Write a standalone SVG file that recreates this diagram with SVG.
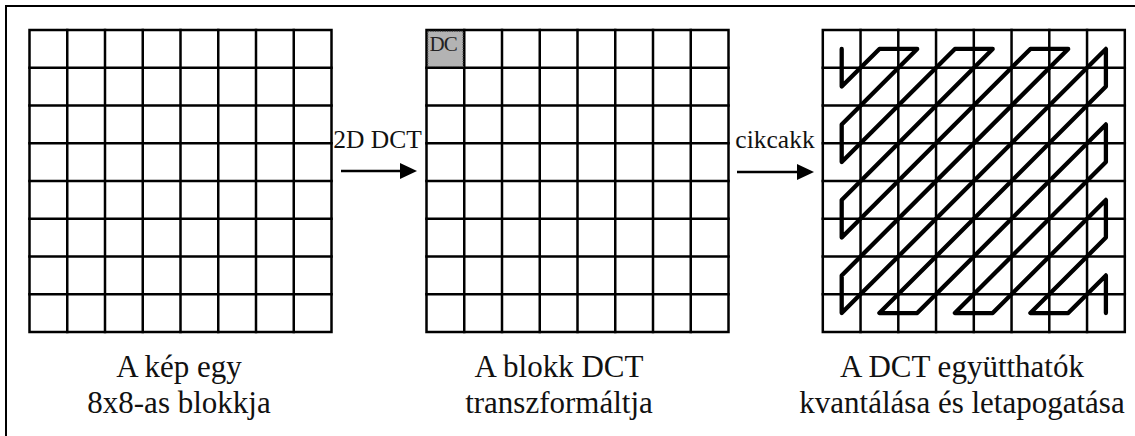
<svg xmlns="http://www.w3.org/2000/svg" xmlns:xlink="http://www.w3.org/1999/xlink" width="1135" height="436" viewBox="0 0 1135 436">
<style>
.frame{stroke:#000;stroke-width:2;fill:none}
.gl{stroke:#000;stroke-width:2.5;fill:none;stroke-linecap:square}
.lbl{font-family:"Liberation Serif","Times New Roman",serif;font-size:31px;fill:#111;text-anchor:middle}
.alb{font-family:"Liberation Serif","Times New Roman",serif;font-size:25.5px;fill:#111;text-anchor:middle}
.conn{stroke:#000;stroke-width:2.7;fill:none}
.zz{stroke:#000;stroke-width:4.3;fill:none;stroke-linejoin:round;stroke-linecap:round}
</style>
<defs>
<marker id="ah" markerWidth="17" markerHeight="16" refX="0" refY="8" orient="auto" markerUnits="userSpaceOnUse">
<path d="M0,0 L17,8 L0,16 Z" fill="#000"/>
</marker>
<g id="grid">
<rect class="gl" x="0" y="0" width="302" height="302"/>
<path class="gl" d="M37.75,0V302M75.5,0V302M113.25,0V302M151,0V302M188.75,0V302M226.5,0V302M264.25,0V302M0,37.75H302M0,75.5H302M0,113.25H302M0,151H302M0,188.75H302M0,226.5H302M0,264.25H302"/>
</g>
</defs>
<rect width="1135" height="436" fill="#fff"/>
<path class="frame" d="M6,436V6H1135"/>
<g id="node-block">
<use xlink:href="#grid" href="#grid" x="29.5" y="30"/>
<text class="lbl" x="179" y="377">A kép egy</text>
<text class="lbl" x="179" y="413">8x8-as blokkja</text>
</g>
<g id="node-dct">
<rect x="426.5" y="30" width="37.75" height="37.75" fill="#b3b3b3"/>
<use xlink:href="#grid" href="#grid" x="426.5" y="30"/>
<rect x="427.8" y="31.3" width="35.2" height="35.2" fill="none" stroke="#555" stroke-width="1.2" stroke-dasharray="1.2,1.2"/>
<text x="429.5" y="50.5" font-family="'Liberation Serif','Times New Roman',serif" font-size="21" fill="#222" letter-spacing="-0.8">DC</text>
<text class="lbl" x="559" y="377">A blokk DCT</text>
<text class="lbl" x="559" y="413">transzformáltja</text>
</g>
<g id="node-zigzag">
<use xlink:href="#grid" href="#grid" x="822.8" y="30"/>
<path class="zz" d="M841.7,48.9 L841.7,86.6 L879.4,48.9 L917.2,48.9 L841.7,124.4 L841.7,162.1 L954.9,48.9 L992.7,48.9 L841.7,199.9 L841.7,237.6 L1030.4,48.9 L1068.2,48.9 L841.7,275.4 L841.7,313.1 L1105.9,48.9 L1105.9,86.6 L879.4,313.1 L917.2,313.1 L1105.9,124.4 L1105.9,162.1 L954.9,313.1 L992.7,313.1 L1105.9,199.9 L1105.9,237.6 L1030.4,313.1 L1068.2,313.1 L1105.9,275.4 L1105.9,313.1"/>
<text class="lbl" x="962" y="377">A DCT együtthatók</text>
<text class="lbl" x="962" y="413">kvantálása és letapogatása</text>
</g>
<g id="connectors">
<line class="conn" x1="341" y1="171" x2="400" y2="171" marker-end="url(#ah)"/>
<text class="alb" x="377.5" y="148">2D DCT</text>
<line class="conn" x1="737" y1="172" x2="797" y2="172" marker-end="url(#ah)"/>
<text class="alb" x="775" y="148">cikcakk</text>
</g>
</svg>
